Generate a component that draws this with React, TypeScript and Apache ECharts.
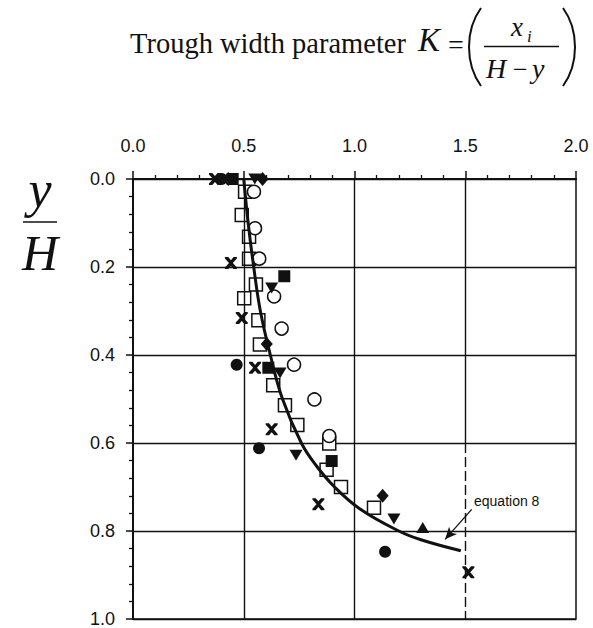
import React, { useEffect, useRef } from "react";
import * as echarts from "echarts";

// Axis ticks
const kTicks = [0.0, 0.5, 1.0, 1.5, 2.0];
const yTicks = [0.0, 0.2, 0.4, 0.6, 0.8, 1.0];

// Measured points, [K, y/H]
const openSquares: number[][] = [
  [0.506, 0.029], [0.491, 0.082], [0.524, 0.131], [0.524, 0.181], [0.555, 0.240],
  [0.502, 0.271], [0.566, 0.321], [0.573, 0.376], [0.633, 0.469], [0.686, 0.514],
  [0.742, 0.559], [0.886, 0.601], [0.874, 0.661], [0.939, 0.700], [1.088, 0.747],
];
const openCircles: number[][] = [
  [0.546, 0.029], [0.551, 0.112], [0.570, 0.181], [0.637, 0.267], [0.671, 0.340],
  [0.727, 0.422], [0.819, 0.501], [0.886, 0.584],
];
const filledSquares: number[][] = [
  [0.45, 0.0], [0.683, 0.221], [0.611, 0.429], [0.897, 0.641],
];
const filledCircles: number[][] = [
  [0.40, 0.0], [0.468, 0.422], [0.569, 0.612], [1.138, 0.847],
];
const downTriangles: number[][] = [
  [0.55, 0.0], [0.626, 0.248], [0.664, 0.441], [0.736, 0.628], [1.178, 0.773],
];
const upTriangles: number[][] = [[1.308, 0.792]];
const diamonds: number[][] = [
  [0.43, 0.0], [0.585, 0.0], [0.604, 0.375], [1.127, 0.720],
];
const crosses: number[][] = [
  [0.37, 0.0], [0.442, 0.191], [0.491, 0.316], [0.551, 0.429], [0.626, 0.569],
  [0.837, 0.739], [1.514, 0.894],
];

// Equation 8 curve, [K, y/H]
const equationCurve: number[][] = [
  [0.5, 0.0], [0.52, 0.1], [0.545, 0.2], [0.575, 0.3], [0.62, 0.4], [0.675, 0.5],
  [0.76, 0.6], [0.825, 0.65], [0.91, 0.7], [1.025, 0.75], [1.2, 0.8], [1.3, 0.82],
  [1.48, 0.845],
];

// Leader arrow for the "equation 8" note, [K, y/H]
const noteArrow: number[][] = [[1.529, 0.751], [1.409, 0.819]];

const CROSS =
  "path://M0,0 L2.8,0 L5,2.6 L7.2,0 L10,0 L10,1.2 L6.6,5 L10,8.8 L10,10 L7.2,10 L5,7.4 L2.8,10 L0,10 L0,8.8 L3.4,5 L0,1.2 Z";

const INK = "#111";

export default function App() {
  const ref = useRef<HTMLDivElement>(null);

  useEffect(() => {
    if (!ref.current) return;
    const chart = echarts.init(ref.current, undefined, { renderer: "svg" });

    const serif = "Liberation Serif";
    const sans = "Liberation Sans";

    const openStyle = { color: "#fff", borderColor: INK, borderWidth: 1.5, opacity: 1 };
    const solidStyle = { color: INK, opacity: 1 };

    const vLine = (k: number, y0: number, y1: number, dashed: boolean) => [
      { coord: [k, y0], lineStyle: { type: dashed ? [10, 4] : "solid", color: INK, width: 1.4 } },
      { coord: [k, y1] },
    ];

    const option: any = {
      animation: false,
      backgroundColor: "#fff",
      grid: {
        left: 133,
        top: 179,
        width: 443,
        height: 441,
        show: true,
        borderColor: INK,
        borderWidth: 1.5,
        backgroundColor: "transparent",
      },
      xAxis: {
        type: "value",
        position: "top",
        min: kTicks[0],
        max: kTicks[kTicks.length - 1],
        interval: 0.5,
        axisLine: { show: true, lineStyle: { color: INK, width: 2 } },
        axisTick: { show: true, inside: false, length: 8, lineStyle: { color: INK, width: 1.5 } },
        minorTick: { show: true, splitNumber: 5, length: 4, lineStyle: { color: INK, width: 1.3 } },
        splitLine: { show: false },
        axisLabel: {
          margin: 24,
          fontFamily: sans,
          fontSize: 18,
          color: INK,
          formatter: (v: number) => v.toFixed(1),
        },
      },
      yAxis: {
        type: "value",
        inverse: true,
        min: yTicks[0],
        max: yTicks[yTicks.length - 1],
        interval: 0.2,
        axisLine: { show: true, lineStyle: { color: INK, width: 2 } },
        axisTick: { show: true, inside: false, length: 7, lineStyle: { color: INK, width: 1.5 } },
        minorTick: { show: true, splitNumber: 5, length: 4, lineStyle: { color: INK, width: 1.3 } },
        splitLine: { show: true, lineStyle: { color: INK, width: 1.4 } },
        axisLabel: {
          margin: 18,
          fontFamily: sans,
          fontSize: 18,
          color: INK,
          formatter: (v: number) => v.toFixed(1),
        },
      },
      series: [
        {
          // vertical grid lines and the dashed K = 1.5 guide
          type: "line",
          data: [],
          silent: true,
          z: 1,
          markLine: {
            silent: true,
            symbol: "none",
            label: { show: false },
            data: [
              vLine(0.5, 0, 1, false),
              vLine(1.0, 0, 1, false),
              vLine(1.5, 0, 0.6, false),
              vLine(1.5, 0.6, 1, true),
            ],
          },
        },
        { type: "scatter", data: openSquares, symbol: "rect", symbolSize: 13, itemStyle: openStyle, z: 3 },
        { type: "scatter", data: openCircles, symbol: "circle", symbolSize: 13, itemStyle: openStyle, z: 3 },
        { type: "scatter", data: filledSquares, symbol: "rect", symbolSize: 12, itemStyle: solidStyle, z: 4 },
        { type: "scatter", data: filledCircles, symbol: "circle", symbolSize: 12, itemStyle: solidStyle, z: 4 },
        {
          type: "scatter", data: downTriangles, symbol: "triangle", symbolRotate: 180,
          symbolSize: [13, 11], itemStyle: solidStyle, z: 4,
        },
        { type: "scatter", data: upTriangles, symbol: "triangle", symbolSize: [13, 11], itemStyle: solidStyle, z: 4 },
        { type: "scatter", data: diamonds, symbol: "diamond", symbolSize: [12, 14], itemStyle: solidStyle, z: 4 },
        { type: "scatter", data: crosses, symbol: CROSS, symbolSize: 12, itemStyle: solidStyle, z: 4 },
        {
          type: "line",
          data: equationCurve,
          smooth: 0.4,
          showSymbol: false,
          symbol: "none",
          lineStyle: { color: INK, width: 3 },
          z: 5,
          markLine: {
            silent: true,
            symbol: "none",
            label: { show: false },
            lineStyle: { color: INK, width: 1.3, type: "solid" },
            data: [
              [
                { coord: noteArrow[0], symbol: "none" },
                { coord: noteArrow[1], symbol: "arrow", symbolSize: [8, 12] },
              ],
            ],
          },
        },
      ],
      graphic: [
        // heading
        {
          type: "text", left: 130, top: 29, silent: true,
          style: { text: "Trough width parameter", font: `28.5px '${serif}'`, fill: INK },
        },
        {
          type: "text", x: 418, y: 56, silent: true,
          style: { text: "K", font: `italic 33px '${serif}'`, fill: INK, textVerticalAlign: "bottom" },
        },
        {
          type: "text", x: 448, y: 58, silent: true,
          style: { text: "=", font: `28px '${serif}'`, fill: INK, textVerticalAlign: "bottom" },
        },
        {
          type: "bezierCurve", silent: true,
          shape: { x1: 481, y1: 8, cpx1: 465, cpy1: 30, cpx2: 465, cpy2: 64, x2: 481, y2: 86 },
          style: { stroke: INK, lineWidth: 2, fill: "none" },
        },
        {
          type: "bezierCurve", silent: true,
          shape: { x1: 563, y1: 8, cpx1: 579, cpy1: 30, cpx2: 579, cpy2: 64, x2: 563, y2: 86 },
          style: { stroke: INK, lineWidth: 2, fill: "none" },
        },
        {
          type: "line", silent: true,
          shape: { x1: 484, y1: 46.5, x2: 559, y2: 46.5 },
          style: { stroke: INK, lineWidth: 1.4 },
        },
        {
          type: "text", x: 511, y: 40, silent: true,
          style: { text: "x", font: `italic 27px '${serif}'`, fill: INK, textVerticalAlign: "bottom" },
        },
        {
          type: "text", x: 527, y: 45, silent: true,
          style: { text: "i", font: `italic 17px '${serif}'`, fill: INK, textVerticalAlign: "bottom" },
        },
        {
          type: "text", x: 486, y: 82, silent: true,
          style: { text: "H", font: `italic 28px '${serif}'`, fill: INK, textVerticalAlign: "bottom" },
        },
        {
          type: "text", x: 513, y: 82, silent: true,
          style: { text: "\u2212", font: `26px '${serif}'`, fill: INK, textVerticalAlign: "bottom" },
        },
        {
          type: "text", x: 532, y: 82, silent: true,
          style: { text: "y", font: `italic 28px '${serif}'`, fill: INK, textVerticalAlign: "bottom" },
        },
        // y-axis title, y / H
        {
          type: "text", x: 40, y: 215, silent: true,
          style: {
            text: "y", font: `italic 52px '${serif}'`, fill: INK,
            textAlign: "center", textVerticalAlign: "bottom",
          },
        },
        {
          type: "line", silent: true,
          shape: { x1: 23, y1: 222, x2: 57, y2: 222 },
          style: { stroke: INK, lineWidth: 1.5 },
        },
        {
          type: "text", x: 40, y: 278, silent: true,
          style: {
            text: "H", font: `italic 50px '${serif}'`, fill: INK,
            textAlign: "center", textVerticalAlign: "bottom",
          },
        },
        // note beside the curve
        {
          type: "text", x: 474, y: 501, silent: true,
          style: {
            text: "equation 8", font: `14px '${sans}'`, fill: INK,
            textVerticalAlign: "middle",
          },
        },
      ],
    };

    chart.setOption(option);
    return () => chart.dispose();
  }, []);

  return (
    <div
      ref={ref}
      style={{ position: "fixed", left: 0, top: 0, width: 593, height: 628, background: "#fff" }}
    />
  );
}
